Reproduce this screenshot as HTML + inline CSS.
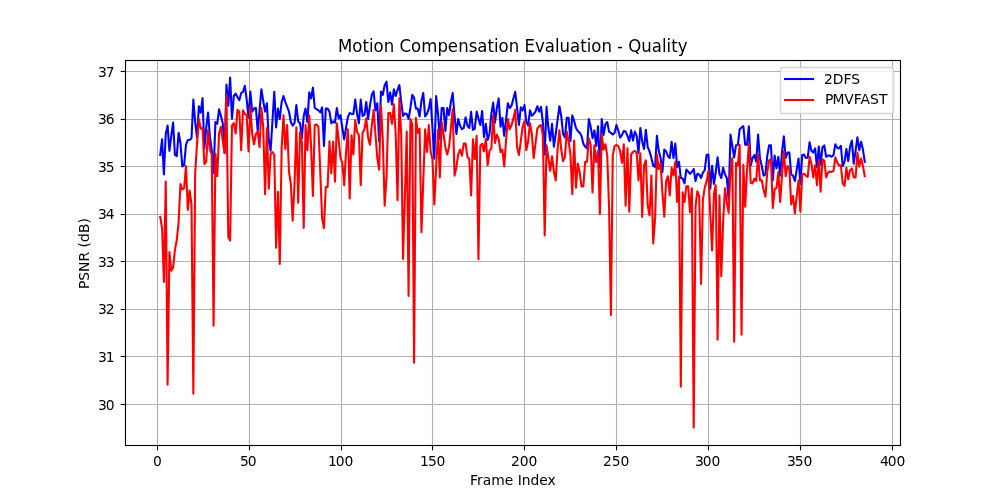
<!DOCTYPE html>
<html lang="en">
<head>
<meta charset="utf-8">
<title>Motion Compensation Evaluation - Quality</title>
<style>
html,body{margin:0;padding:0;background:#fff;}
body{width:1000px;height:500px;overflow:hidden;}
svg{display:block;}
text{font-family:"DejaVu Sans","Liberation Sans",sans-serif;fill:#000;}
</style>
</head>
<body>
<svg width="1000" height="500" viewBox="0 0 1000 500">
<rect x="0" y="0" width="1000" height="500" fill="#ffffff"/>
<defs><clipPath id="ax"><rect x="125.0" y="60.0" width="775.0" height="385.0"/></clipPath></defs>
<g stroke="#b0b0b0" stroke-width="1.1111" fill="none">
<line x1="157.5" y1="60.0" x2="157.5" y2="445.0"/>
<line x1="249.5" y1="60.0" x2="249.5" y2="445.0"/>
<line x1="341.5" y1="60.0" x2="341.5" y2="445.0"/>
<line x1="432.5" y1="60.0" x2="432.5" y2="445.0"/>
<line x1="524.5" y1="60.0" x2="524.5" y2="445.0"/>
<line x1="616.5" y1="60.0" x2="616.5" y2="445.0"/>
<line x1="708.5" y1="60.0" x2="708.5" y2="445.0"/>
<line x1="800.5" y1="60.0" x2="800.5" y2="445.0"/>
<line x1="892.5" y1="60.0" x2="892.5" y2="445.0"/>
<line x1="125.0" y1="404.5" x2="900.0" y2="404.5"/>
<line x1="125.0" y1="356.5" x2="900.0" y2="356.5"/>
<line x1="125.0" y1="309.5" x2="900.0" y2="309.5"/>
<line x1="125.0" y1="261.5" x2="900.0" y2="261.5"/>
<line x1="125.0" y1="214.5" x2="900.0" y2="214.5"/>
<line x1="125.0" y1="166.5" x2="900.0" y2="166.5"/>
<line x1="125.0" y1="119.5" x2="900.0" y2="119.5"/>
<line x1="125.0" y1="71.5" x2="900.0" y2="71.5"/>
</g>
<g stroke="#000" stroke-width="1.1111" fill="none">
<line x1="157.5" y1="445.50" x2="157.5" y2="450.36"/>
<line x1="249.5" y1="445.50" x2="249.5" y2="450.36"/>
<line x1="341.5" y1="445.50" x2="341.5" y2="450.36"/>
<line x1="432.5" y1="445.50" x2="432.5" y2="450.36"/>
<line x1="524.5" y1="445.50" x2="524.5" y2="450.36"/>
<line x1="616.5" y1="445.50" x2="616.5" y2="450.36"/>
<line x1="708.5" y1="445.50" x2="708.5" y2="450.36"/>
<line x1="800.5" y1="445.50" x2="800.5" y2="450.36"/>
<line x1="892.5" y1="445.50" x2="892.5" y2="450.36"/>
<line x1="120.64" y1="404.5" x2="125.50" y2="404.5"/>
<line x1="120.64" y1="356.5" x2="125.50" y2="356.5"/>
<line x1="120.64" y1="309.5" x2="125.50" y2="309.5"/>
<line x1="120.64" y1="261.5" x2="125.50" y2="261.5"/>
<line x1="120.64" y1="214.5" x2="125.50" y2="214.5"/>
<line x1="120.64" y1="166.5" x2="125.50" y2="166.5"/>
<line x1="120.64" y1="119.5" x2="125.50" y2="119.5"/>
<line x1="120.64" y1="71.5" x2="125.50" y2="71.5"/>
</g>
<g clip-path="url(#ax)" fill="none" stroke-width="2.083" stroke-linejoin="round" stroke-linecap="square">
<polyline stroke="#0000ff" points="160.23,155.00 162.07,139.40 163.91,174.40 165.75,134.00 167.59,125.60 169.42,150.80 171.26,135.80 173.10,122.60 174.94,155.00 176.78,156.20 178.62,132.80 180.46,143.00 182.30,166.40 184.14,165.20 185.98,144.80 187.82,140.00 189.66,140.00 191.50,138.20 193.34,99.60 195.18,122.00 197.02,137.60 198.86,106.20 200.70,112.80 202.54,98.16 204.38,148.40 206.22,128.00 208.06,112.44 209.89,136.40 211.73,150.20 213.57,173.20 215.41,122.00 217.25,123.80 219.09,109.20 220.93,116.00 222.77,123.20 224.61,152.60 226.45,84.60 228.29,105.60 230.13,77.50 231.97,118.80 233.81,96.00 235.65,93.60 237.49,97.20 239.33,100.20 241.17,93.00 243.01,91.80 244.85,85.80 246.69,99.60 248.53,117.60 250.36,91.44 252.20,111.60 254.04,108.60 255.88,108.00 257.72,131.00 259.56,110.40 261.40,89.40 263.24,100.80 265.08,111.60 266.92,103.20 268.76,140.00 270.60,150.80 272.44,121.30 274.28,91.80 276.12,127.40 277.96,108.60 279.80,119.00 281.64,102.00 283.48,96.00 285.32,102.00 287.16,106.80 289.00,111.60 290.83,122.00 292.67,125.60 294.51,123.20 296.35,105.00 298.19,121.40 300.03,123.20 301.87,138.20 303.71,116.00 305.55,108.60 307.39,122.00 309.23,92.40 311.07,98.40 312.91,87.60 314.75,108.00 316.59,109.20 318.43,110.40 320.27,112.40 322.11,107.40 323.95,146.00 325.79,108.60 327.63,108.60 329.47,111.60 331.30,123.20 333.14,121.40 334.98,122.60 336.82,108.00 338.66,118.40 340.50,115.20 342.34,128.00 344.18,139.40 346.02,128.00 347.86,117.20 349.70,112.80 351.54,114.00 353.38,114.00 355.22,99.60 357.06,113.60 358.90,123.20 360.74,99.60 362.58,116.00 364.42,114.80 366.26,102.00 368.10,119.00 369.94,105.60 371.77,94.80 373.61,91.44 375.45,110.40 377.29,103.20 379.13,141.20 380.97,91.44 382.81,94.80 384.65,85.20 386.49,81.60 388.33,102.00 390.17,92.40 392.01,104.40 393.85,89.40 395.69,96.00 397.53,90.00 399.37,85.20 401.21,102.00 403.05,115.80 404.89,113.40 406.73,114.00 408.57,118.80 410.41,108.00 412.24,94.80 414.08,97.80 415.92,108.60 417.76,108.60 419.60,116.40 421.44,100.80 423.28,93.00 425.12,116.40 426.96,114.00 428.80,108.60 430.64,99.00 432.48,128.00 434.32,158.60 436.16,96.00 438.00,113.60 439.84,138.80 441.68,108.00 443.52,108.00 445.36,131.00 447.20,108.00 449.04,115.20 450.88,102.00 452.71,93.00 454.55,116.00 456.39,134.00 458.23,119.00 460.07,125.60 461.91,129.20 463.75,128.00 465.59,117.20 467.43,125.60 469.27,128.00 471.11,111.84 472.95,129.80 474.79,128.60 476.63,111.60 478.47,118.40 480.31,125.00 482.15,111.00 483.99,137.00 485.83,123.80 487.67,140.00 489.51,134.00 491.35,114.00 493.18,102.60 495.02,122.60 496.86,108.00 498.70,98.40 500.54,126.80 502.38,117.80 504.22,135.80 506.06,119.60 507.90,103.20 509.74,108.00 511.58,105.60 513.42,98.40 515.26,91.80 517.10,108.00 518.94,125.00 520.78,107.40 522.62,110.40 524.46,105.00 526.30,122.00 528.14,125.60 529.98,110.40 531.82,115.80 533.65,114.00 535.49,111.60 537.33,106.20 539.17,111.60 541.01,106.80 542.85,122.00 544.69,154.40 546.53,106.80 548.37,128.00 550.21,140.60 552.05,123.80 553.89,146.60 555.73,134.00 557.57,119.60 559.41,106.20 561.25,116.40 563.09,134.00 564.93,137.60 566.77,117.80 568.61,117.80 570.45,141.20 572.29,115.40 574.12,120.80 575.96,128.00 577.80,131.00 579.64,132.80 581.48,135.80 583.32,143.60 585.16,146.60 587.00,148.40 588.84,119.00 590.68,126.80 592.52,138.20 594.36,130.40 596.20,146.00 598.04,126.20 599.88,167.20 601.72,119.00 603.56,135.20 605.40,124.40 607.24,122.00 609.08,131.60 610.92,132.80 612.76,134.60 614.59,132.80 616.43,125.00 618.27,130.40 620.11,137.60 621.95,135.20 623.79,131.00 625.63,131.60 627.47,135.80 629.31,141.20 631.15,130.40 632.99,140.60 634.83,131.60 636.67,135.80 638.51,153.20 640.35,128.00 642.19,141.20 644.03,149.00 645.87,129.80 647.71,147.20 649.55,151.40 651.39,158.00 653.23,165.80 655.06,167.00 656.90,135.80 658.74,150.80 660.58,158.00 662.42,172.00 664.26,149.60 666.10,151.40 667.94,156.20 669.78,158.00 671.62,141.80 673.46,158.00 675.30,143.60 677.14,167.20 678.98,161.80 680.82,178.00 682.66,178.60 684.50,183.40 686.34,169.60 688.18,171.40 690.02,173.80 691.86,172.00 693.70,169.00 695.53,181.00 697.37,173.80 699.21,174.40 701.05,178.00 702.89,172.60 704.73,170.20 706.57,155.00 708.41,154.64 710.25,188.80 712.09,165.76 713.93,184.00 715.77,172.00 717.61,157.40 719.45,173.80 721.29,178.00 723.13,167.80 724.97,174.40 726.81,178.00 728.65,199.60 730.49,134.60 732.33,146.00 734.17,157.40 736.00,145.40 737.84,144.80 739.68,129.20 741.52,127.40 743.36,126.20 745.20,144.80 747.04,144.80 748.88,126.20 750.72,165.40 752.56,158.00 754.40,155.00 756.24,161.60 758.08,134.60 759.92,158.00 761.76,166.00 763.60,175.60 765.44,174.40 767.28,155.60 769.12,145.40 770.96,145.40 772.80,180.40 774.64,155.60 776.47,168.40 778.31,156.80 780.15,175.60 781.99,152.00 783.83,136.40 785.67,158.00 787.51,152.60 789.35,152.60 791.19,174.40 793.03,175.60 794.87,181.00 796.71,169.60 798.55,158.60 800.39,184.00 802.23,155.00 804.07,154.64 805.91,158.00 807.75,157.40 809.59,142.16 811.43,150.80 813.27,152.60 815.11,148.40 816.94,167.20 818.78,146.60 820.62,164.80 822.46,147.20 824.30,145.40 826.14,156.80 827.98,155.60 829.82,155.60 831.66,156.80 833.50,155.00 835.34,144.20 837.18,147.80 839.02,148.40 840.86,145.76 842.70,166.00 844.54,161.60 846.38,149.00 848.22,161.20 850.06,146.60 851.90,140.60 853.74,163.60 855.58,150.80 857.41,137.36 859.25,150.20 861.09,141.80 862.93,149.60 864.77,161.84"/>
<polyline stroke="#ff0000" points="160.23,216.96 162.07,228.00 163.91,282.00 165.75,181.60 167.59,384.76 169.42,252.00 171.26,270.60 173.10,267.60 174.94,249.60 176.78,240.00 178.62,222.00 180.46,184.00 182.30,189.40 184.14,188.20 185.98,166.00 187.82,209.80 189.66,190.60 191.50,204.40 193.34,393.78 195.18,173.20 197.02,143.60 198.86,119.00 200.70,128.60 202.54,128.00 204.38,164.20 206.22,161.80 208.06,130.40 209.89,149.60 211.73,154.40 213.57,325.63 215.41,153.80 217.25,176.28 219.09,133.40 220.93,126.80 222.77,141.20 224.61,153.20 226.45,94.80 228.29,237.00 230.13,240.60 231.97,125.60 233.81,123.20 235.65,133.40 237.49,109.80 239.33,111.60 241.17,150.20 243.01,110.40 244.85,114.00 246.69,115.20 248.53,151.40 250.36,106.80 252.20,134.00 254.04,144.20 255.88,134.00 257.72,131.60 259.56,147.20 261.40,108.00 263.24,126.80 265.08,194.20 266.92,128.00 268.76,188.80 270.60,153.80 272.44,152.00 274.28,155.00 276.12,247.80 277.96,191.80 279.80,264.00 281.64,148.00 283.48,115.40 285.32,149.00 287.16,125.00 289.00,172.00 290.83,184.00 292.67,220.80 294.51,184.00 296.35,127.40 298.19,202.60 300.03,132.20 301.87,142.40 303.71,228.00 305.55,125.00 307.39,150.20 309.23,115.40 311.07,146.00 312.91,196.00 314.75,125.00 316.59,124.40 318.43,126.80 320.27,172.00 322.11,218.40 323.95,228.00 325.79,187.00 327.63,187.00 329.47,141.20 331.30,173.20 333.14,141.80 334.98,181.60 336.82,123.20 338.66,140.00 340.50,158.00 342.34,163.00 344.18,185.20 346.02,152.00 347.86,129.20 349.70,198.40 351.54,135.20 353.38,154.40 355.22,120.20 357.06,131.60 358.90,135.20 360.74,185.20 362.58,132.80 364.42,129.20 366.26,118.40 368.10,137.60 369.94,144.80 371.77,125.60 373.61,110.00 375.45,134.00 377.29,158.00 379.13,169.60 380.97,105.80 382.81,140.00 384.65,205.60 386.49,178.00 388.33,113.00 390.17,112.80 392.01,123.80 393.85,104.40 395.69,134.00 397.53,200.20 399.37,98.40 401.21,134.00 403.05,258.96 404.89,195.28 406.73,131.60 408.57,295.95 410.41,119.00 412.24,124.40 414.08,362.68 415.92,117.80 417.76,132.80 419.60,128.60 421.44,232.20 423.28,180.70 425.12,129.20 426.96,152.00 428.80,125.00 430.64,152.00 432.48,159.20 434.32,204.40 436.16,167.10 438.00,129.80 439.84,177.40 441.68,122.00 443.52,134.00 445.36,147.20 447.20,154.40 449.04,147.20 450.88,128.00 452.71,109.20 454.55,175.60 456.39,167.20 458.23,154.40 460.07,149.60 461.91,155.60 463.75,143.60 465.59,143.60 467.43,156.80 469.27,159.20 471.11,195.40 472.95,139.40 474.79,159.20 476.63,135.80 478.47,259.20 480.31,146.00 482.15,143.60 483.99,151.40 485.83,138.80 487.67,165.20 489.51,150.80 491.35,148.40 493.18,115.16 495.02,143.00 496.86,134.60 498.70,138.80 500.54,152.00 502.38,149.60 504.22,166.40 506.06,140.00 507.90,119.00 509.74,129.20 511.58,125.00 513.42,118.40 515.26,109.80 517.10,147.20 518.94,155.00 520.78,141.20 522.62,126.80 524.46,121.40 526.30,150.20 528.14,141.20 529.98,123.20 531.82,134.00 533.65,158.00 535.49,143.60 537.33,128.60 539.17,126.20 541.01,125.00 542.85,135.20 544.69,235.56 546.53,145.40 548.37,158.00 550.21,170.80 552.05,156.20 553.89,172.00 555.73,180.40 557.57,149.60 559.41,130.40 561.25,149.60 563.09,161.20 564.93,156.80 566.77,131.60 568.61,141.20 570.45,154.40 572.29,194.20 574.12,140.60 575.96,187.60 577.80,163.60 579.64,172.00 581.48,186.40 583.32,186.40 585.16,161.80 587.00,161.80 588.84,138.20 590.68,144.80 592.52,192.40 594.36,145.40 596.20,162.20 598.04,150.80 599.88,214.00 601.72,134.00 603.56,149.60 605.40,144.20 607.24,155.60 609.08,208.00 610.92,314.95 612.76,155.60 614.59,146.00 616.43,144.80 618.27,146.00 620.11,150.80 621.95,162.80 623.79,144.20 625.63,205.60 627.47,148.40 629.31,211.60 631.15,154.40 632.99,152.00 634.83,150.80 636.67,152.60 638.51,180.40 640.35,153.20 642.19,216.96 644.03,165.40 645.87,160.40 647.71,205.60 649.55,215.40 651.39,175.60 653.23,243.36 655.06,219.00 656.90,154.40 658.74,169.00 660.58,163.60 662.42,192.40 664.26,216.60 666.10,181.60 667.94,176.20 669.78,195.40 671.62,167.80 673.46,175.60 675.30,161.80 677.14,202.00 678.98,176.20 680.82,386.80 682.66,192.40 684.50,202.00 686.34,186.40 688.18,186.40 690.02,212.20 691.86,188.20 693.70,427.50 695.53,206.67 697.37,191.20 699.21,196.00 701.05,284.08 702.89,199.60 704.73,187.60 706.57,181.60 708.41,170.80 710.25,213.60 712.09,250.56 713.93,193.60 715.77,185.20 717.61,339.69 719.45,195.40 721.29,276.20 723.13,222.00 724.97,188.20 726.81,202.00 728.65,212.80 730.49,172.00 732.33,158.00 734.17,341.83 736.00,163.00 737.84,165.40 739.68,144.80 741.52,334.66 743.36,164.80 745.20,206.80 747.04,170.20 748.88,143.60 750.72,182.80 752.56,183.40 754.40,178.60 756.24,181.00 758.08,154.40 759.92,180.40 761.76,180.40 763.60,190.00 765.44,196.60 767.28,172.00 769.12,160.40 770.96,159.20 772.80,208.00 774.64,188.80 776.47,188.20 778.31,172.00 780.15,202.00 781.99,175.60 783.83,151.40 785.67,176.20 787.51,166.00 789.35,168.40 791.19,204.40 793.03,196.00 794.87,213.40 796.71,196.00 798.55,180.40 800.39,211.60 802.23,174.40 804.07,173.80 805.91,175.60 807.75,176.80 809.59,156.80 811.43,163.60 813.27,177.40 815.11,165.40 816.94,185.20 818.78,160.00 820.62,191.80 822.46,159.44 824.30,160.60 826.14,177.40 827.98,172.60 829.82,171.40 831.66,172.00 833.50,170.80 835.34,157.40 837.18,162.40 839.02,165.40 840.86,165.40 842.70,183.40 844.54,185.80 846.38,167.80 848.22,179.20 850.06,170.20 851.90,168.40 853.74,177.40 855.58,177.40 857.41,152.60 859.25,166.60 861.09,158.60 862.93,166.00 864.77,176.20"/>
</g>
<rect x="125.5" y="60.5" width="775.0" height="385.0" fill="none" stroke="#000" stroke-width="1.1111"/>
<rect x="780.50" y="67.50" width="113.00" height="46.00" rx="2.20" ry="2.20" fill="#ffffff" fill-opacity="0.8" stroke="#cccccc" stroke-opacity="0.8" stroke-width="1.389"/>
<g fill="none" stroke-width="2.083" stroke-linecap="square">
<line x1="785.0" y1="79.0" x2="813.0" y2="79.0" stroke="#0000ff"/>
<line x1="785.0" y1="100.0" x2="813.0" y2="100.0" stroke="#ff0000"/>
</g>
<text x="152.93" y="466.20" font-size="13.889">0</text>
<text x="240.00 247.81" y="466.20" font-size="13.889">50</text>
<text x="328.06 335.87 344.45" y="466.20" font-size="13.889">100</text>
<text x="420.04 428.10 436.43" y="466.20" font-size="13.889">150</text>
<text x="511.01 519.83 528.41" y="466.20" font-size="13.889">200</text>
<text x="602.99 611.80 620.38" y="466.20" font-size="13.889">250</text>
<text x="694.97 702.78 711.61" y="466.20" font-size="13.889">300</text>
<text x="786.95 794.76 803.59" y="466.20" font-size="13.889">350</text>
<text x="879.92 887.74 896.56" y="466.20" font-size="13.889">400</text>
<text x="98.12 105.69" y="410.00" font-size="13.889">30</text>
<text x="98.12 105.69" y="362.00" font-size="13.889">31</text>
<text x="98.12 105.69" y="314.00" font-size="13.889">32</text>
<text x="98.12 105.69" y="267.00" font-size="13.889">33</text>
<text x="98.12 105.69" y="219.00" font-size="13.889">34</text>
<text x="98.12 105.69" y="172.00" font-size="13.889">35</text>
<text x="98.12 105.69" y="124.00" font-size="13.889">36</text>
<text x="98.12 105.69" y="77.00" font-size="13.889">37</text>
<text transform="translate(0,51.90) scale(0.9420,1)" x="358.78 373.95 384.96 391.86 396.47 407.49 418.64 424.22 436.24 447.25 464.38 475.28 486.35 497.50 506.65 517.43 524.33 529.20 539.96 551.11 556.69 568.07 578.21 589.24 593.86 605.01 616.05 622.94 627.56 638.59 649.45 655.05 661.39 666.98 680.82 691.96 702.72 707.61 712.50 719.39" y="0" font-size="17.600">Motion Compensation Evaluation - Quality</text>
<text x="469.88 477.10 482.80 491.30 504.82 513.10 517.77 521.85 530.39 539.21 547.50" y="484.80" font-size="13.889">Frame Index</text>
<text transform="translate(88.60,253.30) rotate(-90)" x="-35.63 -27.52 -18.71 -8.09 1.80 5.71 11.38 20.43 29.71" y="0" font-size="13.889">PSNR (dB)</text>
<text x="824.12 832.68 843.62 851.35" y="84.00" font-size="13.889">2DFS</text>
<text x="825.00 832.39 844.32 853.83 860.62 870.12 878.95" y="103.90" font-size="13.889">PMVFAST</text>
</svg>
</body>
</html>
